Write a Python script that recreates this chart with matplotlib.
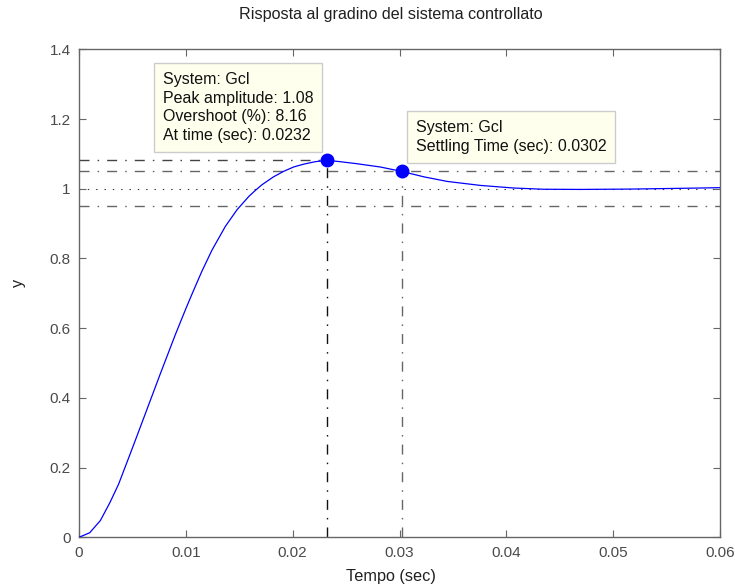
import matplotlib
matplotlib.use("Agg")
import matplotlib.pyplot as plt

plt.rcParams['font.family'] = ['Liberation Sans', 'DejaVu Sans']
plt.rcParams['lines.scale_dashes'] = False

# step response samples of Gcl (time in sec, output y)
t = [0, 0.001, 0.002, 0.0029, 0.0037, 0.00465, 0.00543, 0.00652, 0.00761, 0.009,
     0.00995, 0.01058, 0.0115, 0.01245, 0.0137, 0.0148, 0.0159, 0.0165, 0.01713,
     0.0182, 0.01916, 0.0201, 0.02103, 0.0221, 0.0232, 0.02447, 0.026, 0.02821,
     0.0302, 0.0323, 0.03446, 0.03757, 0.0407, 0.0435, 0.047, 0.0516, 0.056, 0.06]
y = [0, 0.013, 0.048, 0.100, 0.152, 0.228, 0.291, 0.380, 0.469, 0.580,
     0.652, 0.698, 0.763, 0.824, 0.892, 0.940, 0.978, 0.995, 1.0115,
     1.034, 1.050, 1.0625, 1.0705, 1.0775, 1.0816, 1.0775, 1.0718, 1.0623,
     1.0497, 1.034, 1.021, 1.0095, 1.002, 0.9985, 0.998, 0.999, 1.001, 1.003]

peak_t, peak_y, overshoot = 0.0232, 1.0816, 8.16
settle_t, settle_y = 0.0302, 1.0497
band = [0.95, 1.05]
xticks = [0, 0.01, 0.02, 0.03, 0.04, 0.05, 0.06]
yticks = [0, 0.2, 0.4, 0.6, 0.8, 1, 1.2, 1.4]

fig = plt.figure(figsize=(7.35, 5.88), dpi=100)
ax = fig.add_axes([79/735, 1-537.3/588, 641/735, 488/588])

dashdot = (0, (7.2, 5.8, 1.1, 5.8))
gray = '#666666'

ax.plot(t, y, color='#0000ff', lw=0.9, zorder=3)
ax.axhline(1, color='#333333', lw=0.8, ls=(0, (1, 5)), zorder=1)
for b in band:
    ax.axhline(b, color=gray, lw=1.0, ls=dashdot, zorder=1)
ax.plot([0, peak_t], [peak_y, peak_y], color='#444444', lw=1.0, ls=dashdot, zorder=1)
ax.plot([peak_t, peak_t], [0, peak_y], color='#111111', lw=1.0, ls=dashdot, zorder=1)
ax.plot([settle_t, settle_t], [0, settle_y], color=gray, lw=1.0, ls=dashdot, zorder=1)
ax.plot([peak_t, settle_t], [peak_y, settle_y], 'o', color='#0000ff', ms=9, zorder=4)

ax.set_xlim(0, 0.06)
ax.set_ylim(0, 1.4)
ax.set_xticks(xticks)
ax.set_xticklabels(['0', '0.01', '0.02', '0.03', '0.04', '0.05', '0.06'])
ax.set_yticks(yticks)
ax.set_yticklabels(['0', '0.2', '0.4', '0.6', '0.8', '1', '1.2', '1.4'])
ax.tick_params(direction='in', length=5, width=0.8, top=True, right=True,
               colors='#666666', labelcolor='#4a4a4a', labelsize=11, pad=6)
for s in ax.spines.values():
    s.set_color('#666666')
    s.set_linewidth(1.0)

fig.text(391/735, 1-576/588, 'Tempo (sec)', ha='center', va='center',
         fontsize=11.7, color='#202020')
fig.text(18/735, 1-283/588, 'y', ha='center', va='center', rotation=90,
         fontsize=11.7, color='#202020')
fig.text(390.5/735, 1-14/588, 'Risposta al gradino del sistema controllato',
         ha='center', va='center', fontsize=11.6, color='#202020')

box = dict(boxstyle='square,pad=0.55', fc='#ffffee', ec='#cccccc', lw=1.0)
fig.text(162.7/735, 1-72.2/588,
         'System: Gcl\nPeak amplitude: %.2f\nOvershoot (%%): %.2f\nAt time (sec): %.4f'
         % (peak_y, overshoot, peak_t),
         ha='left', va='top', fontsize=11.5, linespacing=1.3, bbox=box, color='#111111')
fig.text(416/735, 1-120.2/588,
         'System: Gcl\nSettling Time (sec): %.4f' % settle_t,
         ha='left', va='top', fontsize=11.5, linespacing=1.3, bbox=box, color='#111111')

fig.savefig('out.png', dpi=100)
